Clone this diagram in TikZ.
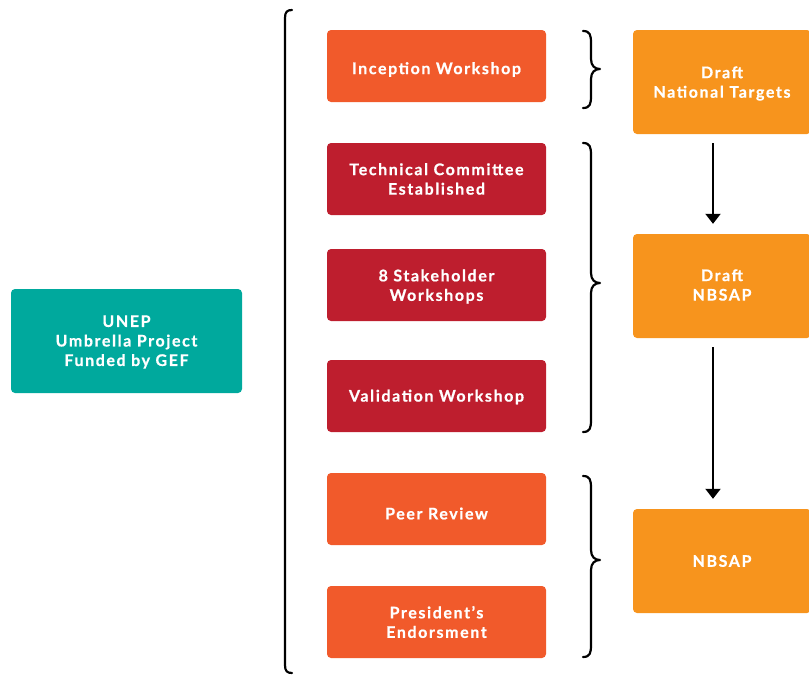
\documentclass[tikz,border=0pt]{standalone}
\usepackage{fontspec}
\setmainfont{Lato}[LetterSpace=10, BoldFeatures={FakeBold=0.7}]
\usetikzlibrary{arrows.meta}
\definecolor{cOrRed}{HTML}{F15A2B}
\definecolor{cRed}{HTML}{BE1E2E}
\definecolor{cTeal}{HTML}{00A99D}
\definecolor{cOrange}{HTML}{F7941D}
\tikzset{
  stepbox/.style={fill=#1, draw=none, rounded corners=4, minimum width=219, minimum height=72, inner sep=0pt},
  outbox/.style={fill=cOrange, draw=none, rounded corners=4, minimum width=178, minimum height=104, inner sep=0pt},
  txt/.style={align=center, text=white, inner sep=0pt, font=\bfseries\fontsize{16}{19.5}\selectfont},
  bracestyle/.style={draw=black, line width=2.2pt, line cap=round, line join=round},
  arr/.style={draw=black, line width=2pt, -{Triangle[length=10pt,width=15pt]}}
}
\newcommand\mybrace[3]{% top, mid, bottom
  \draw[bracestyle] (583,#1) .. controls (590,#1) and (591,#1+4) .. (591,#1+12)
    -- (591,#2-10) .. controls (591,#2-3) and (595,#2) .. (600,#2)
    .. controls (595,#2) and (591,#2+3) .. (591,#2+10)
    -- (591,#3-12) .. controls (591,#3-4) and (590,#3) .. (583,#3);}
\begin{document}
\begin{tikzpicture}[x=1pt,y=-1pt]
\useasboundingbox (0,0) rectangle (809,675);
\begin{scope}
\clip (0,0) rectangle (809,675);
\node[stepbox=cTeal, minimum width=231, minimum height=104] (unep) at (126.5,341) {};
\node[stepbox=cOrRed] (incep) at (436.5,66) {};
\node[stepbox=cRed] (tech) at (436.5,179) {};
\node[stepbox=cRed] (stake) at (436.5,285) {};
\node[stepbox=cRed] (valid) at (436.5,396) {};
\node[stepbox=cOrRed] (peer) at (436.5,509) {};
\node[stepbox=cOrRed] (pres) at (436.5,622) {};
\node[outbox] (d1) at (722,82) {};
\node[outbox] (d2) at (722,286) {};
\node[outbox] (d3) at (722,561) {};
\node[txt, yshift=-1pt] (unep-t) at (unep) {UNEP\\Umbrella Project\\Funded by GEF};
\node[txt, yshift=-3.5pt] (incep-t) at (incep) {Inception Workshop};
\node[txt] (tech-t) at (tech) {Technical Committee\\Established};
\node[txt, yshift=-1.5pt] (stake-t) at (stake) {8 Stakeholder\\Workshops};
\node[txt, yshift=-1pt] (valid-t) at (valid) {Validation Workshop};
\node[txt, yshift=-4.5pt] (peer-t) at (peer) {Peer Review};
\node[txt] (pres-t) at (pres) {President’s\\Endorsment};
\node[txt, yshift=-1.5pt] (d1-t) at (d1) {Draft\\National Targets};
\node[txt, yshift=1pt] (d2-t) at (d2) {Draft\\NBSAP};
\node[txt] (d3-t) at (d3) {NBSAP};
\draw[arr] ([shift={(-9,9)}]d1.south) -- ([shift={(-9,-10)}]d2.north);
\draw[arr] ([shift={(-9,9)}]d2.south) -- ([shift={(-9,-10)}]d3.north);
\draw[bracestyle] (292,10) .. controls (287,10) and (285,12) .. (285,18) -- (285,665)
  .. controls (285,671) and (287,673) .. (292,673);
\mybrace{31}{69}{108}
\mybrace{143}{283}{432}
\mybrace{476}{560}{657}
\end{scope}
\end{tikzpicture}
\end{document}
